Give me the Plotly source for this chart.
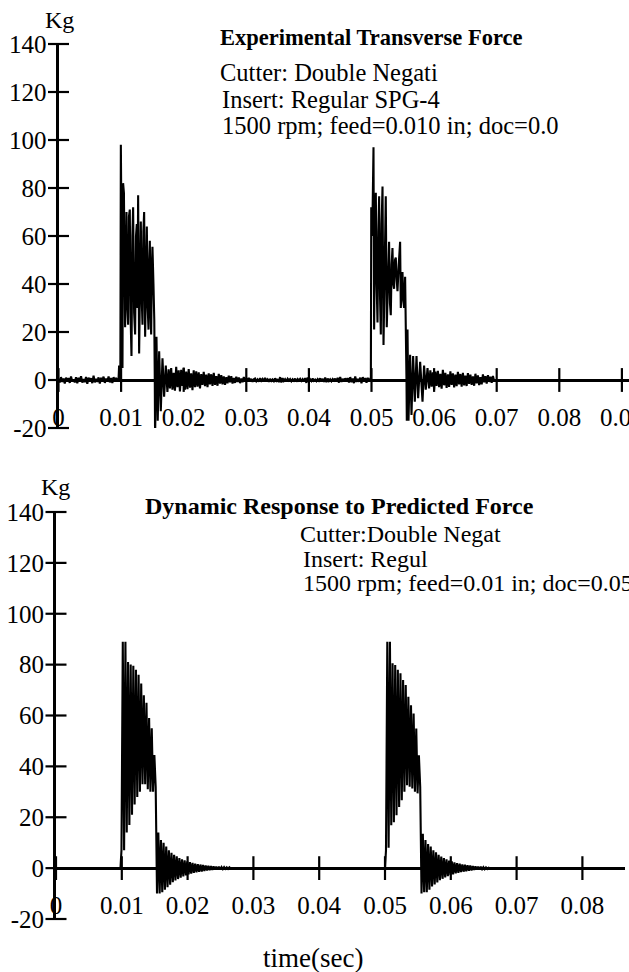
import plotly.graph_objects as go

# ---------------- data ----------------
# Experimental transverse force (Kg) -- quiet segments on a 0.0002 s grid
exp_quiet_a_t0 = 0.0
exp_quiet_a = [0.5, -1.0, 1.2, -0.8, 0.6, -1.5, 1.0, -0.5, 0.8, -1.2,
               1.5, -0.6, 0.3, -1.0, 1.2, -1.4, 0.9, -0.3, 1.6, -1.1,
               0.4, -0.9, 1.3, -1.6, 1.0, -0.4, 0.7, -1.3, 1.8, -1.0,
               0.5, -0.8, 1.1, -1.5, 0.9, -0.2, 1.4, -1.2, 0.6, -0.7,
               1.5, -1.0, 0.8, -1.3, 1.2, -0.5, 0.9, -0.6]

exp_burst1_t = [0.0096, 0.00968, 0.00976, 0.00988, 0.00996, 0.01010, 0.01022, 0.01032,
                0.01045, 0.01064, 0.01076, 0.01086, 0.01100, 0.01112, 0.01125, 0.01139,
                0.01152, 0.01166, 0.01180, 0.01192, 0.01208, 0.01224, 0.01238, 0.01251,
                0.01262, 0.01272, 0.01288, 0.01302, 0.01315, 0.01328, 0.01342, 0.01356,
                0.01368, 0.01384, 0.01398, 0.01411, 0.01425, 0.01438, 0.01450, 0.01459,
                0.01470, 0.01480, 0.01492, 0.01501, 0.01517, 0.01530, 0.01538, 0.01543,
                0.01565, 0.01585, 0.01608, 0.01634, 0.01661, 0.01687, 0.01714, 0.01740]
exp_burst1_v = [0.8, 6.0, 0.5, 1.0, 98.0, 40.0, 5.0, 82.0,
                78.0, 22.0, 45.0, 70.0, 30.0, 23.0, 68.0, 71.0,
                26.0, 10.0, 60.0, 72.0, 28.0, 19.0, 60.0, 65.0,
                30.0, 77.0, 11.0, 50.0, 66.0, 35.0, 23.0, 62.0,
                70.0, 18.0, 55.0, 64.0, 30.0, 21.0, 50.0, 58.0,
                30.0, 19.0, 48.0, 55.5, 40.0, 25.0, 0.0, -24.0,
                18.0, -17.0, 12.0, -13.0, 9.0, -7.0, 6.0, -5.0]

exp_quiet_b_t0 = 0.0176
exp_quiet_b = [4.5, -3.5, 5.0, -4.0, 3.0, -4.5, 5.5, -3.0, 4.0, -4.8,
               4.2, -2.5, 5.2, -4.0, 3.5, -3.8, 4.6, -3.2, 2.8, -4.2,
               4.0, -3.0, 3.6,
               -2.8, 3.2, -3.5, 2.5, -2.0, 3.4, -2.6, 2.2, -3.0, 2.8,
               -1.8, 2.4, -2.5, 3.0, -2.0, 1.6, -2.4, 2.6, -1.5, 2.0,
               -1.8, 1.5, -2.0, 1.2, -1.4, 1.8, -1.0, 1.6, -1.5, 0.8,
               -1.2, 1.4, -0.8, 1.0, -1.3, 0.6, -0.9, 1.2, -0.7, 0.8,
               -0.6, 0.9, -0.4, 0.5, -0.8, 0.3, 0.6, -0.5, 0.2, -0.7,
               0.8, -0.3, 0.4, -0.6, 0.9, -0.2, 0.3, -0.8, 0.5, -0.4,
               0.2, -0.5, 0.7, -0.3, 0.4, -0.9, 1.2, -1.0, 0.8, -0.4,
               0.3, -0.6, 0.5, -0.2, 0.4, -0.5, 0.3, -0.3, 0.6, -0.7,
               0.4, -0.2, 0.5, -0.4, 0.3, -0.6, 0.8, -1.2, 1.0, -0.5,
               0.3, -0.4, 0.6, -0.3, 0.2, -0.5, 0.4, -0.3, 0.7, -0.6,
               0.5, -0.8, 1.0, -0.9, 0.6, -0.4, 0.3, -0.5, 0.4, -0.2,
               0.6, -0.7, 0.9, -1.1, 1.3, -0.8, 0.5, -0.6, 0.7, -0.4,
               0.8, -1.0, 1.2, -0.9, 0.6, -1.3, 1.5, -0.8, 0.4, -0.7,
               1.0, -1.4, 1.2, -0.6, 0.8, -1.1, 0.9, -0.5]

exp_burst2_t = [0.04980, 0.04990, 0.04996, 0.05012, 0.05032, 0.05042, 0.05055, 0.05069,
                0.05082, 0.05096, 0.05110, 0.05122, 0.05136, 0.05149, 0.05162, 0.05176,
                0.05192, 0.05210, 0.05228, 0.05244, 0.05262, 0.05281, 0.05295, 0.05308,
                0.05322, 0.05335, 0.05348, 0.05361, 0.05375, 0.05388, 0.05402, 0.05415,
                0.05435, 0.05457, 0.05468, 0.05482, 0.05495, 0.05508, 0.05521, 0.05537,
                0.05552, 0.05559, 0.05564, 0.05575, 0.05591, 0.05617, 0.05639, 0.05665,
                0.05692, 0.05719, 0.05745, 0.05777, 0.05815, 0.05840, 0.05867, 0.05895]
exp_burst2_v = [0.5, 1.0, 72.0, 60.0, 97.0, 21.0, 60.0, 78.0,
                40.0, 24.0, 62.0, 76.6, 35.0, 19.0, 65.0, 80.6,
                14.6, 50.0, 76.6, 22.0, 45.0, 57.6, 32.0, 27.0,
                48.0, 55.0, 40.0, 38.0, 50.0, 51.0, 42.0, 37.0,
                48.0, 57.6, 30.0, 40.0, 45.0, 33.0, 30.0, 43.0,
                20.0, 0.0, -17.0, 21.0, -17.0, 10.5, -14.6, 10.0,
                -9.0, 10.0, -7.6, 7.6, -9.0, 6.0, -4.0, 5.0]

exp_quiet_c_t0 = 0.0592
exp_quiet_c = [-3.5, 4.0, -2.8, 3.2, -4.0, 3.5, -2.5, 3.8, -3.0, 2.6,
               -3.6, 4.2, -2.2, 3.0, -3.3, 2.4, -2.9, 3.6, -2.0, 2.8,
               -3.1, 2.2, -2.6, 3.4, -1.8, 2.5, -2.8, 3.0, -2.2, 1.8,
               -2.5, 2.9, -1.6, 2.2, -2.0, 1.5, -2.4, 2.6, -1.4, 1.9,
               -2.1, 1.2, -1.8, 2.3, -1.0, 1.6, -1.5, 2.0, -0.8, 1.4,
               -1.2, 1.7, -0.5]

# Dynamic response to predicted force (Kg) -- 0.0002 s grid inside each pass
pred_rest_t = [0.0, 0.0098]
pred_rest_v = [0.0, 0.0]
pred_pass1_t0 = 0.00995
pred_pass1 = [7, 89, 7, 89, 14, 81, 17, 80, 21, 79.6,
              25, 78, 28, 76, 30, 72.6, 33, 68, 33, 65,
              31, 59, 30, 55, 30, 44.5, 32,
              -10, 14, -10, 11, -9.5, 10, -8.5, 8.5, -7.5, 7,
              -6.5, 6, -5.5, 5.2, -4.8, 4.6, -4.3, 4, -3.8, 3.5,
              -3.3, 3.1, -2.9, 2.7, -2.5, 2.4, -2.2, 2.1, -1.9, 1.8,
              -1.7, 1.6, -1.5, 1.4, -1.3, 1.2, -1.1, 1.0, -0.9, 0.9,
              -0.8, 0.8, -0.7, 0.7, -0.6, 0.6, -0.5, 0.5, -0.5, 0.4,
              -0.4, 0.4, -0.3, 0.3, -0.3, 0.3, -0.2, 0]
pred_gap_t = [0.0500]
pred_gap_v = [0.0]
pred_pass2_t0 = 0.05015
pred_pass2 = [7, 89, 8, 89, 16.9, 80.5, 18, 79.8, 20.8, 78,
              24, 76.6, 26.7, 74, 30, 72, 32.6, 67.4, 32, 64,
              31.3, 60.8, 30, 54.9, 29.4, 44.4, 32,
              -10, 13.5, -9.5, 11, -9.5, 9.5, -8.5, 8.5, -7.2, 7,
              -6.4, 6.2, -5.6, 5.2, -4.7, 4.5, -4.2, 4, -3.7, 3.5,
              -3.2, 3, -2.8, 2.7, -2.5, 2.3, -2.1, 2, -1.9, 1.8,
              -1.6, 1.5, -1.4, 1.3, -1.2, 1.1, -1.0, 1.0, -0.9, 0.8,
              -0.7, 0.7, -0.6, 0.6, -0.5, 0.5, -0.4, 0.4, -0.4, 0.3,
              -0.3, 0.2, 0]
pred_mean_t = [0.0101, 0.0125, None, 0.0502, 0.0532]
pred_mean_v = [53.5, 53.5, None, 53.0, 53.0]

STEP = 0.0002

# axis ticks
y_tickvals = [-20, 0, 20, 40, 60, 80, 100, 120, 140]
y_ticktext = ["-20", "0", "20", "40", "60", "80", "100", "120", "140"]
x_top_tickvals = [0, 0.01, 0.02, 0.03, 0.04, 0.05, 0.06, 0.07, 0.08, 0.09]
x_top_ticktext = ["0", "0.01", "0.02", "0.03", "0.04", "0.05", "0.06", "0.07", "0.08", "0.09"]
x_bot_tickvals = [0, 0.01, 0.02, 0.03, 0.04, 0.05, 0.06, 0.07, 0.08]
x_bot_ticktext = ["0", "0.01", "0.02", "0.03", "0.04", "0.05", "0.06", "0.07", "0.08"]


def grid(t0, vals):
    return [round(t0 + i * STEP, 7) for i in range(len(vals))]


exp_t = (grid(exp_quiet_a_t0, exp_quiet_a) + exp_burst1_t + grid(exp_quiet_b_t0, exp_quiet_b)
         + exp_burst2_t + grid(exp_quiet_c_t0, exp_quiet_c))
exp_v = exp_quiet_a + exp_burst1_v + exp_quiet_b + exp_burst2_v + exp_quiet_c

pred_t = pred_rest_t + grid(pred_pass1_t0, pred_pass1) + pred_gap_t + grid(pred_pass2_t0, pred_pass2)
pred_v = pred_rest_v + pred_pass1 + pred_gap_v + pred_pass2

# ---------------- layout geometry ----------------
W, H = 629, 972
FONT = "Liberation Serif"


def px(x):
    return x / W


def py(y):
    return 1 - y / H


fig = go.Figure()

line_style = dict(color="black", width=2.1)
fig.add_trace(go.Scatter(x=exp_t, y=exp_v, mode="lines", line=line_style,
                         xaxis="x", yaxis="y", cliponaxis=False, hoverinfo="skip"))
fig.add_trace(go.Scatter(x=pred_t, y=pred_v, mode="lines", line=line_style,
                         xaxis="x2", yaxis="y2", cliponaxis=False, hoverinfo="skip"))
fig.add_trace(go.Scatter(x=pred_mean_t, y=pred_mean_v, mode="lines",
                         line=dict(color="black", width=1.2),
                         xaxis="x2", yaxis="y2", hoverinfo="skip"))

# crossing tick marks
tick_marker_ns = dict(symbol="line-ns", size=17, line=dict(width=2.2, color="black"))
tick_marker_ew = dict(symbol="line-ew", size=15, line=dict(width=2.2, color="black"))
for xa, ya, xt in (("x", "y", x_top_tickvals), ("x2", "y2", x_bot_tickvals)):
    fig.add_trace(go.Scatter(x=xt, y=[0] * len(xt), mode="markers", marker=tick_marker_ns,
                             xaxis=xa, yaxis=ya, cliponaxis=False, hoverinfo="skip"))
    fig.add_trace(go.Scatter(x=[0] * len(y_tickvals), y=y_tickvals, mode="markers",
                             marker=tick_marker_ew, xaxis=xa, yaxis=ya,
                             cliponaxis=False, hoverinfo="skip"))

tickfont = dict(family=FONT, size=25, color="black")

top_left, bot_left, bot_right = 58.5, 56.0, 625.0
top_y0, top_y1 = 44.0, 428.0      # pixel rows of 140 and -20
bot_y0, bot_y1 = 512.0, 919.0

xcommon = dict(showgrid=False, zeroline=False, showline=True, linewidth=3, linecolor="black",
               ticks="", tickfont=tickfont, anchor="free", ticklabelstandoff=14,
               automargin=False, ticklabeloverflow="allow")
ycommon = dict(showgrid=False, zeroline=False, showline=True, linewidth=3, linecolor="black",
               ticks="", tickfont=tickfont, range=[-20, 140], tickvals=y_tickvals,
               ticktext=y_ticktext, ticklabelstandoff=4, automargin=False)

fig.update_layout(
    template="none",
    width=W, height=H,
    margin=dict(l=0, r=0, t=0, b=0, autoexpand=False),
    paper_bgcolor="white", plot_bgcolor="white",
    showlegend=False,
    xaxis=dict(domain=[px(top_left), 1.0], range=[0, (W - top_left) / 6260],
               tickvals=x_top_tickvals, ticktext=x_top_ticktext,
               position=py(380), **xcommon),
    yaxis=dict(domain=[py(top_y1), py(top_y0)], anchor="x", **ycommon),
    xaxis2=dict(domain=[px(bot_left), px(bot_right)], range=[0, (bot_right - bot_left) / 6580],
                tickvals=x_bot_tickvals, ticktext=x_bot_ticktext,
                position=py(868), **xcommon),
    yaxis2=dict(domain=[py(bot_y1), py(bot_y0)], anchor="x2", **ycommon),
)

ann = [
    ("Kg", 59, 20, "center", 24, False),
    ("Experimental Transverse Force", 218, 37, "left", 22.5, True),
    ("Cutter: Double Negati", 218, 72, "left", 24.5, False),
    ("Insert: Regular SPG-4", 220, 99, "left", 24.5, False),
    ("1500 rpm; feed=0.010 in; doc=0.0", 220, 125, "left", 24.5, False),
    ("Kg", 56, 487, "center", 24, False),
    ("Dynamic Response to Predicted Force", 143, 506, "left", 24, True),
    ("Cutter:Double Negat", 298, 534, "left", 24, False),
    ("Insert: Regul", 301, 559, "left", 24, False),
    ("1500 rpm; feed=0.01 in; doc=0.05", 301, 583, "left", 24, False),
    ("time(sec)", 313, 958, "center", 27, False),
]
for text, x, y, xanchor, size, bold in ann:
    fig.add_annotation(text=f"<b>{text}</b>" if bold else text, x=px(x), y=py(y),
                       xref="paper", yref="paper", xanchor=xanchor, yanchor="middle",
                       showarrow=False, font=dict(family=FONT, size=size, color="black"))

fig.write_html("out.html", config={"displayModeBar": False},
               post_script="document.body.style.margin='0';document.body.style.overflow='hidden';")
